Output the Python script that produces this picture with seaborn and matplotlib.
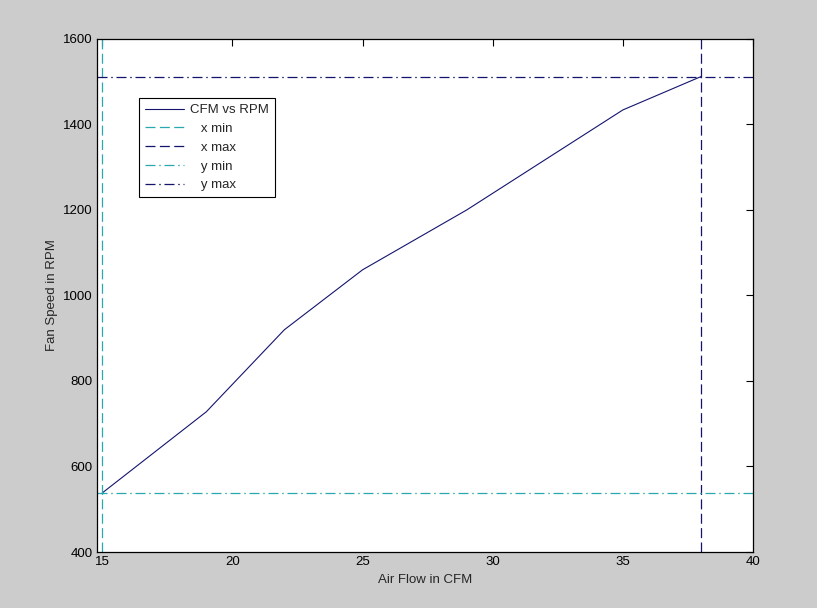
import seaborn as sns
import matplotlib.pyplot as plt
import pandas as pd

# air flow (CFM) vs fan speed (RPM)
cfm = [15, 19, 22, 25, 29, 35, 38]
rpm = [538, 728, 920, 1060, 1200, 1434, 1512]

x_ticks = [15, 20, 25, 30, 35, 40]
y_ticks = [400, 600, 800, 1000, 1200, 1400, 1600]

sns.set_style("white")
plt.rcParams['font.family'] = ['Liberation Sans', 'DejaVu Sans']
plt.rcParams['font.size'] = 9.5

navy = '#14146e'
teal = '#2aa8b0'

df = pd.DataFrame({'cfm': cfm, 'rpm': rpm})

fig = plt.figure(figsize=(8.17, 6.08), dpi=100, facecolor='#cccccc')
ax = fig.add_axes([0.1187, 0.0921, 0.8030, 0.8438])
ax.set_facecolor('white')

sns.lineplot(data=df, x='cfm', y='rpm', ax=ax, color=navy, lw=0.8,
             label='CFM vs RPM')

dash = (8, 3.5)
dashdot = (8, 3, 1.2, 3)
ax.axvline(min(cfm), color=teal, lw=0.9, dashes=dash, label='   x min')
ax.axvline(max(cfm), color=navy, lw=0.9, dashes=dash, label='   x max')
ax.axhline(min(rpm), color=teal, lw=0.9, dashes=dashdot, label='   y min')
ax.axhline(max(rpm), color=navy, lw=0.9, dashes=dashdot, label='   y max')

ax.set_xlim(14.8, 40)
ax.set_ylim(400, 1600)
ax.set_xticks(x_ticks)
ax.set_yticks(y_ticks)
ax.tick_params(direction='in', length=5, width=0.8, top=True, right=True,
               colors='black', labelsize=9.5, pad=3)
for s in ax.spines.values():
    s.set_color('black')
    s.set_linewidth(0.9)

ax.set_xlabel('Air Flow in CFM', fontsize=9.5, labelpad=4)
ax.set_ylabel('Fan Speed in RPM', fontsize=9.5, labelpad=4)

leg = ax.legend(loc='upper left', bbox_to_anchor=(0.064, 0.885), fancybox=False,
                framealpha=1, edgecolor='black', borderpad=0.45,
                handlelength=3.0, handletextpad=0.4, labelspacing=0.5,
                fontsize=9.5, borderaxespad=0)
leg.get_frame().set_linewidth(0.8)

fig.savefig('out.png', dpi=100, facecolor=fig.get_facecolor())
